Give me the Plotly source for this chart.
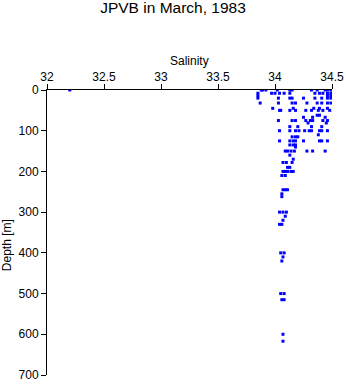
import plotly.graph_objects as go

# Salinity / depth samples grouped by approximate depth level
levels = [
    (0,   [32.2, 33.88, 33.89, 33.92, 34.02, 34.13, 34.15, 34.32, 34.37, 34.44, 34.46, 34.49]),
    (8,   [33.85, 33.97, 34.0, 34.04, 34.08, 34.13, 34.35, 34.39, 34.42, 34.46, 34.49]),
    (14,  [33.85, 34.46, 34.49]),
    (20,  [33.85, 34.03, 34.13, 34.15, 34.25, 34.35, 34.41, 34.46, 34.49]),
    (32,  [33.87, 34.03, 34.15, 34.18, 34.28, 34.37, 34.41, 34.46, 34.49]),
    (45,  [33.98, 34.16, 34.34, 34.39, 34.46]),
    (50,  [34.04, 34.05, 34.13, 34.18, 34.27, 34.32, 34.38, 34.42, 34.48]),
    (62,  [34.37, 34.39]),
    (67,  [34.25, 34.33, 34.44]),
    (75,  [34.03, 34.15, 34.18, 34.27, 34.31, 34.33, 34.42, 34.46]),
    (81,  [34.29, 34.45]),
    (90,  [34.13, 34.2, 34.32, 34.41]),
    (100, [34.04, 34.13, 34.18, 34.21, 34.26, 34.3, 34.32, 34.39, 34.41, 34.46]),
    (110, [34.38]),
    (115, [34.15, 34.18, 34.2]),
    (125, [34.04, 34.13, 34.16, 34.18, 34.25, 34.39, 34.41, 34.46]),
    (135, [34.13, 34.16, 34.18]),
    (140, [34.18]),
    (150, [34.09, 34.11, 34.14, 34.17, 34.28, 34.33, 34.44]),
    (160, [34.13]),
    (170, [34.16]),
    (178, [34.07, 34.1, 34.15]),
    (190, [34.11, 34.13]),
    (200, [34.07, 34.09, 34.11, 34.14, 34.16]),
    (210, [34.06, 34.09]),
    (245, [34.07, 34.09, 34.11]),
    (255, [34.06]),
    (262, [34.06]),
    (300, [34.04, 34.07, 34.1]),
    (310, [34.09]),
    (320, [34.07]),
    (330, [34.04, 34.06]),
    (400, [34.05, 34.08]),
    (410, [34.07]),
    (420, [34.06]),
    (500, [34.05, 34.08]),
    (515, [34.06, 34.08]),
    (600, [34.07]),
    (617, [34.07]),
]

salinity = [s for d, ss in levels for s in ss]
depth = [d for d, ss in levels for s in ss]

x_ticks = [32, 32.5, 33, 33.5, 34, 34.5]
y_ticks = [0, 100, 200, 300, 400, 500, 600, 700]

FONT = "Liberation Sans, Arial, Helvetica, sans-serif"

fig = go.Figure(go.Scatter(
    x=salinity, y=depth, mode="markers",
    marker=dict(symbol="square", size=3, color="#0000ff", line=dict(width=0)),
    hoverinfo="x+y",
))

fig.update_layout(
    width=346, height=384,
    margin=dict(l=47, r=14, t=90, b=9, autoexpand=False),
    paper_bgcolor="white", plot_bgcolor="white",
    font=dict(family=FONT, size=12, color="black"),
    showlegend=False,
    title=dict(text="JPVB in March, 1983", x=0.5, xanchor="center",
               y=0.995, yanchor="top", font=dict(size=15.5, family=FONT)),
    xaxis=dict(
        side="top", range=[32, 34.5], tickvals=x_ticks,
        ticktext=[str(v) for v in x_ticks], automargin=False,
        showgrid=False, zeroline=False, showline=True, linecolor="black",
        linewidth=1, ticks="outside", ticklen=5, tickcolor="black",
        ticklabelstandoff=-2,
    ),
    yaxis=dict(
        range=[700, 0], tickvals=y_ticks, showgrid=False, zeroline=False,
        showline=True, linecolor="black", linewidth=1, ticks="outside",
        ticklen=5, tickcolor="black", automargin=False,
    ),
    annotations=[
        dict(text="Depth [m]", textangle=-90, xref="paper", yref="paper",
             x=-0.14, y=0.456, xanchor="center", yanchor="middle",
             showarrow=False, font=dict(size=12, family=FONT)),
        dict(text="Salinity", xref="paper", yref="paper",
             x=0.5, y=1.1035, xanchor="center", yanchor="middle",
             showarrow=False, font=dict(size=12, family=FONT)),
    ],
)

fig.write_html("out.html")
